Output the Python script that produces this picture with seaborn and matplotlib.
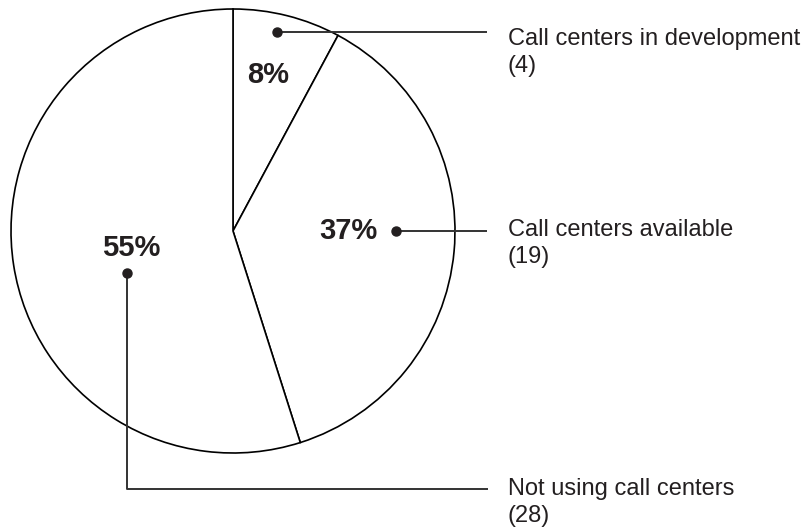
import matplotlib
matplotlib.use("Agg")
import matplotlib.pyplot as plt
import seaborn as sns

# Data
categories = ["Call centers in development", "Call centers available", "Not using call centers"]
counts = [4, 19, 28]

sns.set_theme(style="white")
plt.rcParams['font.family'] = ['Liberation Sans', 'DejaVu Sans']

W, H = 809, 527
fig = plt.figure(figsize=(W / 100, H / 100), dpi=100)
ax = fig.add_axes([0, 0, 1, 1])

# Pie in pixel coordinates (y axis inverted afterwards)
cx, cy, r = 233, 231, 222
ax.pie(counts, startangle=-90, counterclock=True, center=(cx, cy), radius=r,
       colors=["white"] * len(counts),
       wedgeprops=dict(edgecolor="black", linewidth=1.2))
ax.set_xlim(0, W)
ax.set_ylim(H, 0)
ax.set_axis_off()

total = sum(counts)
pcts = ["%d%%" % round(100 * c / total) for c in counts]

# layout of the callouts: percent text, dot, leader path, label baseline
pct_pos = [(268, 75), (348, 231), (131, 248)]
dot_pos = [(277, 32), (396, 231), (127, 273)]
paths = [
    [(277, 32), (487, 32)],
    [(396, 231), (487, 231)],
    [(127, 273), (127, 489), (488, 489)],
]
label_base = [45, 236, 495]

text_col = "#231f20"
for i in range(len(counts)):
    ax.text(*pct_pos[i], pcts[i], fontsize=21, fontweight="bold", color=text_col,
            ha="center", va="center")
    xs, ys = zip(*paths[i])
    ax.plot(xs, ys, color="#333333", lw=1.4, solid_capstyle="butt")
    ax.plot(*dot_pos[i], "o", color=text_col, ms=6.5)
    ax.text(508, label_base[i], categories[i], fontsize=17, color=text_col,
            ha="left", va="baseline")
    ax.text(508, label_base[i] + 27, "(%d)" % counts[i], fontsize=17, color=text_col,
            ha="left", va="baseline")

fig.savefig("out.png", dpi=100)
